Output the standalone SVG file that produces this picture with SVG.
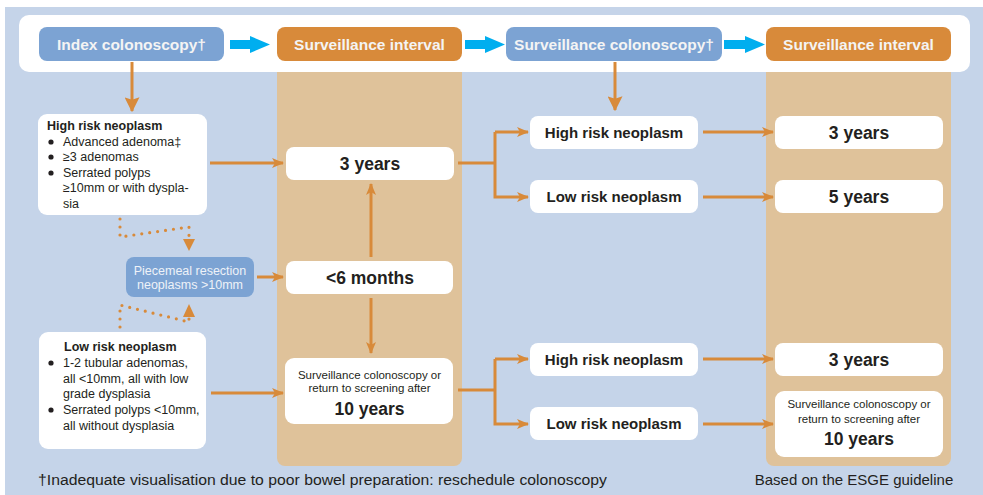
<svg xmlns="http://www.w3.org/2000/svg" width="983" height="495" viewBox="0 0 983 495">
<style>
text{font-family:"Liberation Sans",Arial,sans-serif;fill:#231F20}
.hdr{font-weight:bold;font-size:15.5px;fill:#F4F4F4;text-anchor:middle}
.wb{fill:#FFFFFF}
.b{font-weight:bold}
.mid{text-anchor:middle}
.con{stroke:#D88A3A;stroke-width:3;fill:none}
.dot{stroke:#D88A3A;stroke-width:3.2;fill:none;stroke-linecap:round;stroke-dasharray:0 8}
.cy{fill:#00AEEF}
.body{font-size:12.5px}
</style>
<defs>
<marker id="ah" viewBox="0 0 12 10" refX="11" refY="5" markerWidth="12" markerHeight="10" markerUnits="userSpaceOnUse" orient="auto">
<path d="M0,0 L12,5 L0,10 L3,5 Z" fill="#D88A3A"/>
</marker>
<marker id="ahb" viewBox="0 0 12 12" refX="11" refY="6" markerWidth="15" markerHeight="15" markerUnits="userSpaceOnUse" orient="auto">
<path d="M0,0 L12,6 L0,12 L2,6 Z" fill="#D88A3A"/>
</marker>
</defs>
<rect x="5" y="7" width="978" height="488" fill="#C5D4E9"/>
<rect x="19" y="15" width="951" height="57" rx="10" fill="#FFFFFF"/>
<path d="M277,72 H462 V458 a8,8 0 0 1 -8,8 H285 a8,8 0 0 1 -8,-8 Z" fill="#DFC29A"/>
<path d="M766,72 H951 V458 a8,8 0 0 1 -8,8 H774 a8,8 0 0 1 -8,-8 Z" fill="#DFC29A"/>

<g id="header-index">
<rect x="39" y="27" width="185" height="34" rx="8" fill="#7CA3D3"/>
<text class="hdr" x="131.5" y="49.5">Index colonoscopy†</text>
</g>
<g id="header-interval1">
<rect x="277" y="27" width="185" height="34" rx="8" fill="#D88A3A"/>
<text class="hdr" x="369.5" y="49.5">Surveillance interval</text>
</g>
<g id="header-surv">
<rect x="506" y="27" width="216" height="34" rx="8" fill="#7CA3D3"/>
<text class="hdr" x="614" y="49.5">Surveillance colonoscopy†</text>
</g>
<g id="header-interval2">
<rect x="766" y="27" width="185" height="34" rx="8" fill="#D88A3A"/>
<text class="hdr" x="858.5" y="49.5">Surveillance interval</text>
</g>

<g id="high-risk">
<rect x="38" y="114" width="169" height="101" rx="9" class="wb"/>
<text class="b" x="47" y="130" font-size="12.5">High risk neoplasm</text>
<g class="body">
<circle cx="51" cy="142" r="2.6" fill="#231F20"/><text x="63" y="146">Advanced adenoma‡</text>
<circle cx="51" cy="157" r="2.6" fill="#231F20"/><text x="63" y="161">≥3 adenomas</text>
<circle cx="51" cy="173" r="2.6" fill="#231F20"/><text x="63" y="177">Serrated polyps</text>
<text x="63" y="192">≥10mm or with dyspla-</text>
<text x="63" y="208">sia</text>
</g>
</g>

<g id="piecemeal">
<rect x="126" y="257" width="128" height="40" rx="8" fill="#7CA3D3"/>
<text class="mid" x="190" y="274.5" font-size="12.5" style="fill:#EEF2F8">Piecemeal resection</text>
<text class="mid" x="190" y="288.5" font-size="12.5" style="fill:#EEF2F8">neoplasms &gt;10mm</text>
</g>

<g id="low-risk">
<rect x="39" y="332" width="167" height="117" rx="9" class="wb"/>
<text class="b" x="64" y="351" font-size="12.5">Low risk neoplasm</text>
<g class="body">
<circle cx="51" cy="363" r="2.6" fill="#231F20"/><text x="63" y="367">1-2 tubular adenomas,</text>
<text x="63" y="383">all &lt;10mm, all with low</text>
<text x="63" y="398">grade dysplasia</text>
<circle cx="51" cy="410" r="2.6" fill="#231F20"/><text x="63" y="414">Serrated polyps &lt;10mm,</text>
<text x="63" y="430">all without dysplasia</text>
</g>
</g>

<g id="c1-3years">
<rect x="286" y="147" width="168" height="33" rx="8" class="wb"/>
<text class="b mid" x="370" y="169.5" font-size="17.5">3 years</text>
</g>
<g id="c1-6months">
<rect x="286" y="261" width="167" height="33" rx="8" class="wb"/>
<text class="b mid" x="370" y="283.5" font-size="17.5">&lt;6 months</text>
</g>
<g id="c1-10years">
<rect x="285" y="358" width="168" height="66" rx="9" class="wb"/>
<text class="mid" x="369.5" y="379" font-size="11.5">Surveillance colonoscopy or</text>
<text class="mid" x="369.5" y="391.5" font-size="11.5">return to screening after</text>
<text class="b mid" x="369.5" y="414.5" font-size="17.5">10 years</text>
</g>

<g id="r1-high">
<rect x="530" y="116" width="168" height="33" rx="8" class="wb"/>
<text class="b mid" x="614" y="137.5" font-size="15">High risk neoplasm</text>
</g>
<g id="r2-low">
<rect x="530" y="180" width="168" height="33" rx="8" class="wb"/>
<text class="b mid" x="614" y="201.5" font-size="15">Low risk neoplasm</text>
</g>
<g id="r3-high">
<rect x="530" y="343" width="168" height="33" rx="8" class="wb"/>
<text class="b mid" x="614" y="364.5" font-size="15">High risk neoplasm</text>
</g>
<g id="r4-low">
<rect x="530" y="407" width="168" height="33" rx="8" class="wb"/>
<text class="b mid" x="614" y="428.5" font-size="15">Low risk neoplasm</text>
</g>

<g id="c2-3years-a">
<rect x="775" y="116" width="168" height="33" rx="8" class="wb"/>
<text class="b mid" x="859" y="138.5" font-size="17.5">3 years</text>
</g>
<g id="c2-5years">
<rect x="775" y="180" width="168" height="33" rx="8" class="wb"/>
<text class="b mid" x="859" y="202.5" font-size="17.5">5 years</text>
</g>
<g id="c2-3years-b">
<rect x="775" y="343" width="168" height="33" rx="8" class="wb"/>
<text class="b mid" x="859" y="365.5" font-size="17.5">3 years</text>
</g>
<g id="c2-10years">
<rect x="775" y="391" width="168" height="66" rx="9" class="wb"/>
<text class="mid" x="859" y="408" font-size="11.5">Surveillance colonoscopy or</text>
<text class="mid" x="859" y="423" font-size="11.5">return to screening after</text>
<text class="b mid" x="859" y="445" font-size="17.5">10 years</text>
</g>

<g id="connectors">
<path class="cy" d="M230,40 H250 V36 L270,44.5 L250,53 V49 H230 Z"/>
<path class="cy" d="M465,40 H485 V36 L505,44.5 L485,53 V49 H465 Z"/>
<path class="cy" d="M724,40 H745 V36 L765,44.5 L745,53 V49 H724 Z"/>
<line class="con" x1="132" y1="62" x2="132" y2="111" stroke-width="4.5" marker-end="url(#ahb)"/>
<line class="con" x1="615" y1="62" x2="615" y2="110" stroke-width="4.5" marker-end="url(#ahb)"/>
<line class="con" x1="210" y1="163" x2="283" y2="163" marker-end="url(#ah)"/>
<line class="con" x1="257" y1="277" x2="283" y2="277" marker-end="url(#ah)"/>
<line class="con" x1="211" y1="393" x2="283" y2="393" marker-end="url(#ah)"/>
<line class="con" x1="371" y1="257" x2="371" y2="184" marker-end="url(#ah)"/>
<line class="con" x1="371" y1="298" x2="371" y2="353" marker-end="url(#ah)"/>
<path class="con" d="M458,163 H495"/>
<path class="con" d="M495,132 V197 H528" marker-end="url(#ah)"/>
<line class="con" x1="495" y1="132" x2="528" y2="132" marker-end="url(#ah)"/>
<path class="con" d="M458,390 H495"/>
<path class="con" d="M495,359 V424 H528" marker-end="url(#ah)"/>
<line class="con" x1="495" y1="359" x2="528" y2="359" marker-end="url(#ah)"/>
<line class="con" x1="703" y1="132" x2="773" y2="132" marker-end="url(#ah)"/>
<line class="con" x1="703" y1="197" x2="773" y2="197" marker-end="url(#ah)"/>
<line class="con" x1="703" y1="359" x2="773" y2="359" marker-end="url(#ah)"/>
<line class="con" x1="703" y1="424" x2="773" y2="424" marker-end="url(#ah)"/>
<path class="dot" d="M120,219 V237 L189,227 V240"/>
<path d="M183,239 L195,239 L189,251 Z" fill="#D88A3A"/>
<path class="dot" d="M120,327 V305 L189,322 V318"/>
<path d="M183,317 L195,317 L189,304 Z" fill="#D88A3A"/>
</g>

<text x="38" y="485" font-size="15.5" fill="#333333" textLength="569" lengthAdjust="spacingAndGlyphs">†Inadequate visualisation due to poor bowel preparation: reschedule colonoscopy</text>
<text x="854" y="485" font-size="15" text-anchor="middle">Based on the ESGE guideline</text>
</svg>
